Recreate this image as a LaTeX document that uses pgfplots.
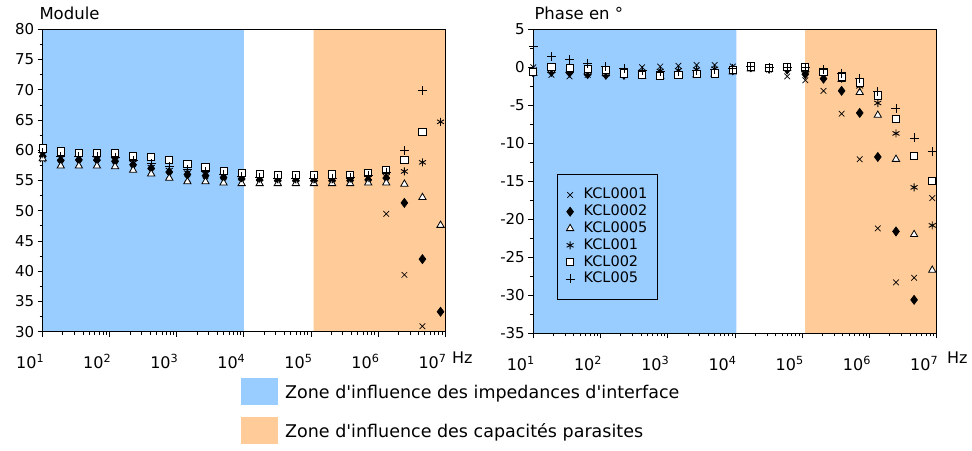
\documentclass[border=0pt]{standalone}
\usepackage{pgfplots}
\pgfplotsset{compat=1.18}
\usepackage{pgfplotstable}
\usepackage{fontspec}
\setmainfont{DejaVu Sans}

\definecolor{zoneblue}{RGB}{153,204,255}
\definecolor{zoneorange}{RGB}{255,204,153}

\newcommand\ytfont{\fontsize{15bp}{18bp}\selectfont}
\newcommand\xtfont{\fontsize{16bp}{19bp}\selectfont}
\newcommand\legfont{\fontsize{14.5bp}{16bp}\selectfont}
\newcommand\ttlfont{\fontsize{16.5bp}{19bp}\selectfont}
\newcommand\botfont{\fontsize{17.5bp}{20bp}\selectfont}

% module (gain) for each solution
\pgfplotstableread{
f       m1   m2   m3   m4   m5   m6
10      58.5 59.0 58.6 59.3 60.3 59.6
18.6    57.8 58.3 57.4 58.7 59.8 59.0
34.6    57.8 58.4 57.4 58.7 59.5 59.0
64.4    57.8 58.4 57.4 58.6 59.5 59.0
120     57.5 58.2 57.3 58.4 59.5 58.8
223     57.0 57.6 56.7 57.9 59.1 58.3
415     56.5 57.0 56.1 57.2 58.9 57.8
772     55.8 56.4 55.4 56.7 58.4 57.3
1440    55.3 56.0 54.8 56.3 57.7 56.9
2680    55.0 55.8 54.8 56.1 57.2 56.5
4980    54.8 55.5 54.6 55.7 56.6 56.0
9270    54.7 55.3 54.5 55.4 56.2 55.7
17200   54.7 55.1 54.5 55.3 56.1 55.5
32100   54.6 55.0 54.5 55.2 55.9 55.3
59700   54.6 55.0 54.5 55.2 55.9 55.3
111000  54.6 55.0 54.5 55.2 55.9 55.3
207000  54.6 55.0 54.5 55.2 56.0 55.4
385000  54.7 55.0 54.5 55.3 55.9 55.5
716000  54.8 55.1 54.6 55.4 56.2 55.8
1330000 49.5 55.4 54.6 55.7 56.7 56.4
2480000 39.4 51.3 54.4 56.5 58.4 59.9
4610000 30.9 42.0 52.2 58.0 63.0 69.9
8580000 nan  33.3 47.6 64.7 nan  nan
}\moduletab

% phase in degrees
\pgfplotstableread{
f       p1    p2    p3    p4    p5    p6
10      0.0   -0.7  -0.8  -0.3  -0.6  2.8
18.6    -1.0  -0.6  -0.4  -0.5  0.0   1.4
34.6    -1.2  -0.7  -0.4  -0.6  -0.1  1.0
64.4    -1.0  -0.9  -0.6  -0.8  -0.2  0.5
120     -0.8  -1.0  -0.8  -0.9  -0.4  0.1
223     -0.6  -1.0  -1.0  -0.8  -0.8  -0.2
415     0.0   -0.9  -1.2  -0.6  -1.0  -0.4
772     0.1   -0.8  -1.2  -0.5  -1.1  -0.5
1440    0.2   -0.8  -1.1  -0.4  -1.0  -0.5
2680    0.3   -0.7  -1.0  -0.3  -0.9  -0.4
4980    0.3   -0.6  -0.9  -0.2  -0.8  -0.3
9270    0.1   -0.4  -0.6  -0.2  -0.4  -0.2
17200   0.0   0.0   -0.2  0.0   0.1   0.1
32100   -0.3  -0.2  -0.2  -0.1  -0.1  0.0
59700   -1.2  -0.3  -0.1  -0.2  0.0   0.0
111000  -1.7  -0.9  -0.3  -0.4  0.0   0.0
207000  -3.1  -1.5  -0.8  -0.8  -0.6  -0.3
385000  -6.1  -3.1  -1.6  -1.5  -1.2  -0.8
716000  -12.1 -6.0  -3.3  -2.5  -2.0  -1.5
1330000 -21.2 -11.8 -6.3  -4.7  -3.7  -3.2
2480000 -28.3 -21.6 -12.1 -8.7  -6.8  -5.4
4610000 -27.7 -30.6 -22.0 -15.8 -11.7 -9.3
8580000 -17.2 nan   -26.7 -20.8 -15.0 -11.1
}\phasetab

\pgfplotsset{
  every axis/.append style={
    scale only axis, anchor=south west,
    xmode=log, xmin=10, xmax=1e7,
    xtick={1e1,1e2,1e3,1e4,1e5,1e6,1e7},
    xticklabels={10\textsuperscript{1},10\textsuperscript{2},10\textsuperscript{3},10\textsuperscript{4},10\textsuperscript{5},10\textsuperscript{6},10\textsuperscript{7}},
    xtick pos=bottom, ytick pos=left,
    tick align=outside, major tick length=5bp, minor tick length=3bp,
    minor y tick num=1,
    axis line style={black, line width=1bp},
    tick style={black, line width=0.8bp},
    axis on top,
    yticklabel style={font=\ytfont, /pgf/number format/assume math mode=true},
    xticklabel style={font=\xtfont, anchor=base east, xshift=5bp, yshift=-32bp},
  },
  cycle list={
    {only marks, mark=x, mark size=4bp, black, line width=0.7bp},
    {only marks, mark=diamond*, mark size=4.5bp, black, line width=0.7bp},
    {only marks, mark=triangle*, mark size=4.2bp, draw=black, fill=white, line width=0.8bp},
    {only marks, mark=asterisk, mark size=4bp, black, line width=0.9bp},
    {only marks, mark=square*, mark size=3.6bp, draw=black, fill=white, line width=0.9bp},
    {only marks, mark=+, mark size=4.5bp, black, line width=0.8bp}%
  },
}

\begin{document}
\begin{tikzpicture}
\useasboundingbox (0,0) rectangle (972bp,451bp);

\begin{axis}[at={(42.7bp,119.3bp)}, width=402.3bp, height=302.4bp,
  ymin=30, ymax=80, ytick={30,35,...,80}]
\addplot[draw=none, fill=zoneblue, forget plot] coordinates {(10,30) (1e4,30) (1e4,80) (10,80)} \closedcycle;
\addplot[draw=none, fill=zoneorange, forget plot] coordinates {(1.1e5,30) (1e7,30) (1e7,80) (1.1e5,80)} \closedcycle;
\addplot table[x=f, y=m1] {\moduletab};
\addplot table[x=f, y=m2] {\moduletab};
\addplot table[x=f, y=m3] {\moduletab};
\addplot table[x=f, y=m4] {\moduletab};
\addplot table[x=f, y=m5] {\moduletab};
\addplot table[x=f, y=m6] {\moduletab};
\end{axis}

\begin{axis}[at={(533.3bp,117.7bp)}, width=403.4bp, height=304bp,
  ymin=-35, ymax=5, ytick={-35,-30,...,5},
  legend style={at={(rel axis cs:0.059,0.524)}, anchor=north west,
    draw=black, line width=1bp, fill=none, font=\legfont,
    inner xsep=8bp, inner ysep=12bp, column sep=7bp,
    nodes={text height=11bp, text depth=3bp, inner ysep=1.4bp}},
  legend cell align=left]
\addplot[draw=none, fill=zoneblue, forget plot] coordinates {(10,-35) (1.05e4,-35) (1.05e4,5) (10,5)} \closedcycle;
\addplot[draw=none, fill=zoneorange, forget plot] coordinates {(1.1e5,-35) (1e7,-35) (1e7,5) (1.1e5,5)} \closedcycle;
\addplot table[x=f, y=p1] {\phasetab};
\addplot table[x=f, y=p2] {\phasetab};
\addplot table[x=f, y=p3] {\phasetab};
\addplot table[x=f, y=p4] {\phasetab};
\addplot table[x=f, y=p5] {\phasetab};
\addplot table[x=f, y=p6] {\phasetab};
\legend{KCL0001,KCL0002,KCL0005,KCL001,KCL002,KCL005}
\end{axis}

% titles and units
\node[anchor=base west, inner sep=0, font=\ttlfont] at (39.3bp,431.7bp) {Module};
\node[anchor=base west, inner sep=0, font=\ttlfont] at (534.3bp,431.7bp) {Phase en °};
\node[anchor=base west, inner sep=0, font=\xtfont] at (452bp,87bp) {Hz};
\node[anchor=base west, inner sep=0, font=\xtfont] at (947bp,87bp) {Hz};

% zone key
\fill[zoneblue] (240.7bp,46bp) rectangle (278.3bp,72.7bp);
\fill[zoneorange] (240.7bp,7bp) rectangle (278.3bp,33.7bp);
\node[anchor=base west, inner sep=0, font=\botfont] at (285bp,52.3bp) {Zone d\textquotesingle influence des impedances d\textquotesingle interface};
\node[anchor=base west, inner sep=0, font=\botfont] at (285bp,13.3bp) {Zone d\textquotesingle influence des capacités parasites};
\end{tikzpicture}
\end{document}
